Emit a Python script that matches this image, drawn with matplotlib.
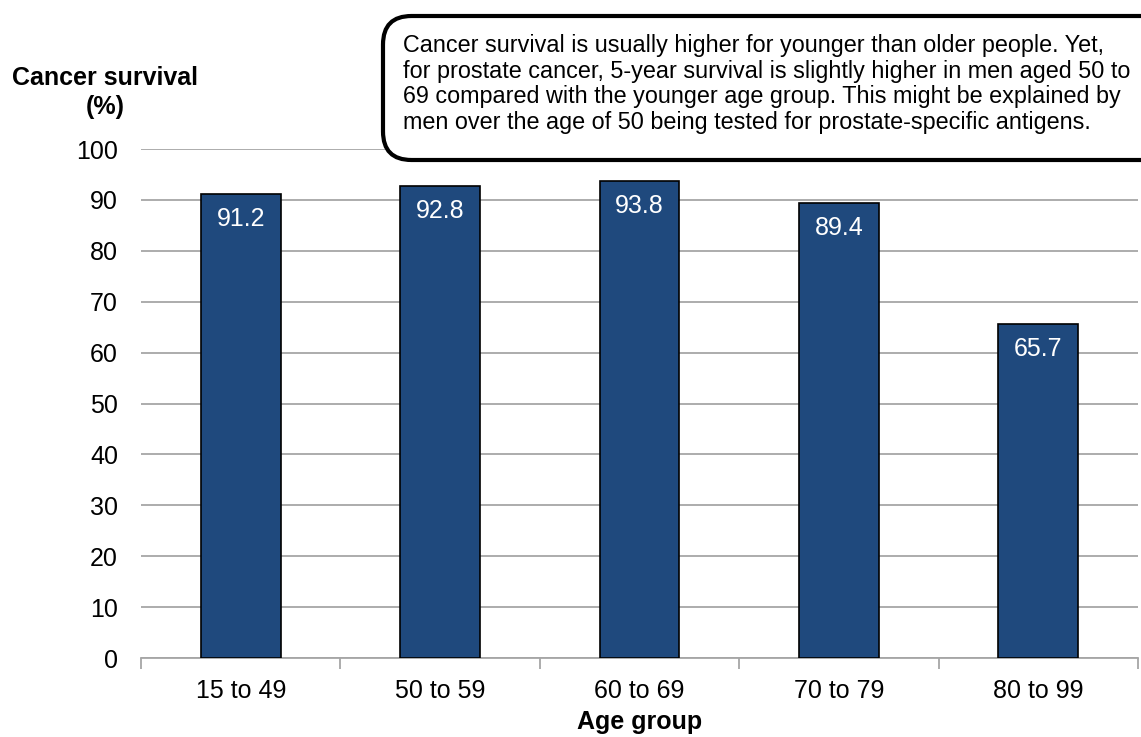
import matplotlib
matplotlib.use("Agg")
import matplotlib.pyplot as plt
from matplotlib.patches import FancyBboxPatch

categories = ["15 to 49", "50 to 59", "60 to 69", "70 to 79", "80 to 99"]
survival = [91.2, 92.8, 93.8, 89.4, 65.7]
yticks = [0, 10, 20, 30, 40, 50, 60, 70, 80, 90, 100]
note = ("Cancer survival is usually higher for younger than older people. Yet,\n"
        "for prostate cancer, 5-year survival is slightly higher in men aged 50 to\n"
        "69 compared with the younger age group. This might be explained by\n"
        "men over the age of 50 being tested for prostate-specific antigens.")

plt.rcParams['font.family'] = ['Liberation Sans', 'DejaVu Sans']

W, H = 1141, 737
fig = plt.figure(figsize=(W / 100, H / 100), dpi=100)
ax = fig.add_axes([141 / W, 1 - 658 / H, (1138 - 141) / W, (658 - 149) / H])

x = list(range(len(categories)))
bars = ax.bar(x, survival, width=0.4, color="#1F497D", edgecolor="black",
              linewidth=1.2, zorder=3)
for xi, v in zip(x, survival):
    ax.annotate(f"{v:.1f}", (xi, v), xytext=(0, -25), textcoords="offset pixels",
                ha="center", va="center", color="white", fontsize=18, zorder=4)

ax.set_xlim(-0.5, len(categories) - 0.5)
ax.set_ylim(0, 100)
ax.set_yticks(yticks)
ax.set_yticklabels([str(t) for t in yticks], fontsize=18)
ax.yaxis.grid(True, color="#A6A6A6", linewidth=1.3, zorder=0)
ax.set_axisbelow(True)
ax.tick_params(axis="y", length=0, pad=16.5)

ax.set_xticks(x)
ax.set_xticklabels(categories, fontsize=18)
ax.set_xticks([i + 0.5 for i in range(-1, len(categories))], minor=True)
ax.tick_params(axis="x", which="major", length=0, pad=15)
ax.tick_params(axis="x", which="minor", length=8, color="#A6A6A6", width=1.3)

for s in ["top", "right", "left"]:
    ax.spines[s].set_visible(False)
ax.spines["bottom"].set_color("#A6A6A6")
ax.spines["bottom"].set_linewidth(1.3)

fig.text(105 / W, 1 - 78 / H, "Cancer survival", ha="center", va="center",
         fontsize=18, fontweight="bold")
fig.text(105 / W, 1 - 107 / H, "(%)", ha="center", va="center",
         fontsize=18, fontweight="bold")
fig.text(640 / W, 1 - 722 / H, "Age group", ha="center", va="center",
         fontsize=18, fontweight="bold")

box = FancyBboxPatch((383 / W, 1 - 160 / H), (1180 - 383) / W, (160 - 16) / H,
                     boxstyle="round,pad=0,rounding_size=0.025",
                     transform=fig.transFigure, facecolor="white",
                     edgecolor="black", linewidth=3, zorder=10,
                     mutation_aspect=W / H)
fig.add_artist(box)
fig.text(403 / W, 1 - 84 / H, note, ha="left", va="center", fontsize=16.8,
         linespacing=1.15, zorder=11)

fig.savefig("out.png", dpi=100)
